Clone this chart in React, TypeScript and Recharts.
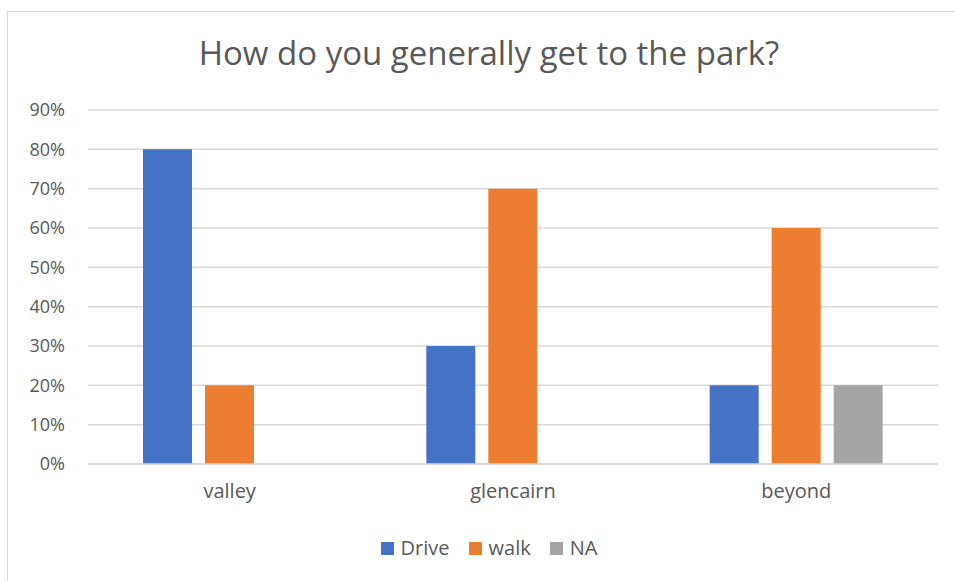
import React from "react";
import { BarChart, Bar, XAxis, YAxis, CartesianGrid } from "recharts";

const categories = ["valley", "glencairn", "beyond"];
const driveValues = [80, 30, 20];
const walkValues = [20, 70, 60];
const naValues = [null, null, 20];
const yTicks = [0, 10, 20, 30, 40, 50, 60, 70, 80, 90];
const seriesNames = ["Drive", "walk", "NA"];
const seriesColors = ["#4472C4", "#ED7D31", "#A5A5A5"];
const title = "How do you generally get to the park?";

const data = categories.map((c, i) => ({
  name: c,
  Drive: driveValues[i],
  walk: walkValues[i],
  NA: naValues[i],
}));

const FONT = "'Open Sans', 'Noto Sans', sans-serif";
const TEXT = "#595959";

const LegendContent = () => (
  <div style={{ display: "flex", justifyContent: "center", alignItems: "center", fontFamily: FONT, fontSize: 20, color: TEXT, lineHeight: "26px" }}>
    {seriesNames.map((n, i) => (
      <div key={n} style={{ display: "flex", alignItems: "center", marginRight: i < 2 ? 19 : 0 }}>
        <span style={{ display: "inline-block", width: 13, height: 13, background: seriesColors[i], marginRight: 7 }} />
        <span>{n}</span>
      </div>
    ))}
  </div>
);

export default function App() {
  return (
    <div style={{ position: "fixed", left: 0, top: 0, width: 955, height: 581, overflow: "hidden", background: "#fff" }}>
      <div style={{ position: "absolute", left: 7, top: 11, width: 980, height: 620, border: "1.5px solid #D9D9D9", boxSizing: "border-box" }} />
      <div style={{ position: "absolute", left: 0, top: 31, width: 978, textAlign: "center", fontFamily: FONT, fontSize: 33, color: TEXT, lineHeight: "44px" }}>
        {title}
      </div>
      <div style={{ position: "absolute", left: 0, top: 0 }}>
        <BarChart
          width={955}
          height={581}
          data={data}
          margin={{ top: 110, right: 17, left: 0, bottom: 87 }}
          barCategoryGap={55}
          barGap={13}
        >
          <CartesianGrid vertical={false} stroke="#D9D9D9" strokeWidth={1.5} />
          <XAxis
            dataKey="name"
            axisLine={{ stroke: "#D9D9D9", strokeWidth: 1.5 }}
            tickLine={false}
            tickSize={6}
            tickMargin={14}
            tick={{ fill: TEXT, fontSize: 20, fontFamily: FONT }}
            height={30}
          />
          <YAxis
            width={88}
            domain={[0, 90]}
            ticks={yTicks}
            interval={0}
            axisLine={false}
            tickLine={false}
            tickSize={6}
            tickMargin={17}
            tickFormatter={(v) => `${v}%`}
            tick={{ fill: TEXT, fontSize: 18, fontFamily: FONT }}
          />
          {seriesNames.map((n, i) => (
            <Bar key={n} dataKey={n} fill={seriesColors[i]} isAnimationActive={false} />
          ))}
        </BarChart>
      </div>
      <div style={{ position: "absolute", left: 0, top: 535, width: 978 }}>
        <LegendContent />
      </div>
    </div>
  );
}
